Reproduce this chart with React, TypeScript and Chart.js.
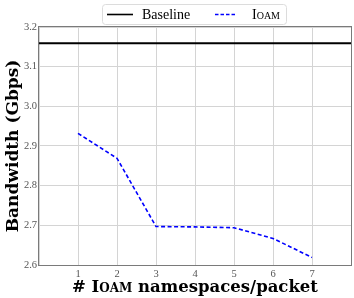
import React, { useEffect, useRef } from "react";
import { Chart, registerables } from "chart.js";

Chart.register(...registerables);

const xValues = [1, 2, 3, 4, 5, 6, 7];
const ioamValues = [2.932, 2.869, 2.697, 2.696, 2.694, 2.667, 2.619];
const baselineValue = 3.159;
const xRange = [0, 8];
const yRange = [2.6, 3.2];
const xTitleParts = ["# ", "Ioam", " namespaces/packet"];
const yTitle = "Bandwidth (Gbps)";
const legendLabels = ["Baseline", "Ioam"];

const SERIF = "'DejaVu Serif', serif";
const TICK_FONT = "'Liberation Serif', serif";

const overlayPlugin = {
  id: "overlay",
  afterDraw(chart: any) {
    const ctx = chart.ctx as CanvasRenderingContext2D;
    const ca = chart.chartArea;
    ctx.save();
    // frame
    ctx.strokeStyle = "#7a7a7a";
    ctx.lineWidth = 1;
    ctx.strokeRect(Math.round(ca.left) - 0.5, Math.round(ca.top) - 0.5, Math.round(ca.right - ca.left) + 1, Math.round(ca.bottom - ca.top) + 1);

    // x title with small caps segment
    const fonts = [
      `bold 16.5px ${SERIF}`,
      `small-caps bold 16.5px ${SERIF}`,
      `bold 16.5px ${SERIF}`,
    ];
    let total = 0;
    const widths: number[] = [];
    xTitleParts.forEach((t, i) => {
      ctx.font = fonts[i];
      const w = ctx.measureText(t).width;
      widths.push(w);
      total += w;
    });
    let x = (ca.left + ca.right) / 2 - total / 2;
    ctx.fillStyle = "#000";
    ctx.textBaseline = "alphabetic";
    ctx.textAlign = "left";
    xTitleParts.forEach((t, i) => {
      ctx.font = fonts[i];
      ctx.fillText(t, x, 292);
      x += widths[i];
    });

    // legend
    const bx = 102.5, by = 4.5, bw = 184, bh = 20;
    ctx.beginPath();
    (ctx as any).roundRect(bx, by, bw, bh, 3);
    ctx.fillStyle = "rgba(255,255,255,0.9)";
    ctx.fill();
    ctx.strokeStyle = "#dcdcdc";
    ctx.lineWidth = 1;
    ctx.stroke();

    const ly = 14.5;
    ctx.beginPath();
    ctx.strokeStyle = "#000";
    ctx.lineWidth = 1.6;
    ctx.moveTo(107, ly);
    ctx.lineTo(133, ly);
    ctx.stroke();
    ctx.font = `14px 'Liberation Serif', serif`;
    ctx.fillStyle = "#000";
    ctx.fillText(legendLabels[0], 142, 18.5);

    ctx.beginPath();
    ctx.strokeStyle = "#0000ff";
    ctx.lineWidth = 1.5;
    ctx.setLineDash([3.5, 2]);
    ctx.moveTo(215, ly);
    ctx.lineTo(236, ly);
    ctx.stroke();
    ctx.setLineDash([]);
    ctx.font = `small-caps 14px 'Liberation Serif', serif`;
    ctx.fillText(legendLabels[1], 252, 18.5);
    ctx.restore();
  },
};

export default function App() {
  const ref = useRef<HTMLCanvasElement>(null);
  useEffect(() => {
    document.body.style.margin = "0";
    const chart = new Chart(ref.current!, {
      type: "line",
      data: {
        datasets: [
          {
            label: legendLabels[0],
            data: [
              { x: xRange[0], y: baselineValue },
              { x: xRange[1], y: baselineValue },
            ],
            borderColor: "#000",
            borderWidth: 2,
            pointRadius: 0,
          },
          {
            label: legendLabels[1],
            data: xValues.map((x, i) => ({ x, y: ioamValues[i] })),
            borderColor: "#0000ff",
            borderWidth: 1.6,
            borderDash: [4, 2.5],
            pointRadius: 0,
            tension: 0,
          },
        ],
      },
      options: {
        responsive: false,
        animation: false,
        layout: { padding: { top: 27, right: 3, left: 0, bottom: 0 } },
        plugins: { legend: { display: false }, tooltip: { enabled: false } },
        scales: {
          x: {
            type: "linear",
            min: xRange[0],
            max: xRange[1],
            grid: { color: "#d4d4d4", drawTicks: false },
            border: { display: false },
            ticks: {
              stepSize: 1,
              padding: 3,
              color: "#555",
              font: { family: TICK_FONT, size: 10.5 },
              maxRotation: 0,
              callback: (v: any) => (v >= 1 && v <= 7 ? String(v) : ""),
            },
            afterFit: (s: any) => {
              s.height = 33;
            },
          },
          y: {
            min: yRange[0],
            max: yRange[1],
            grid: { color: "#d4d4d4", drawTicks: false },
            border: { display: false },
            ticks: {
              stepSize: 0.1,
              padding: 2,
              color: "#555",
              font: { family: TICK_FONT, size: 10.5 },
              callback: (v: any) => Number(v).toFixed(1),
            },
            title: {
              display: true,
              text: yTitle,
              color: "#000",
              font: { family: SERIF, size: 17, weight: "bold" },
              padding: { top: 3, bottom: 0 },
            },
            afterFit: (s: any) => {
              s.width = 39;
            },
          },
        },
      },
      plugins: [overlayPlugin],
    });
    return () => chart.destroy();
  }, []);
  return (
    <div style={{ width: 354, height: 298 }}>
      <canvas ref={ref} width={354} height={298} />
    </div>
  );
}
